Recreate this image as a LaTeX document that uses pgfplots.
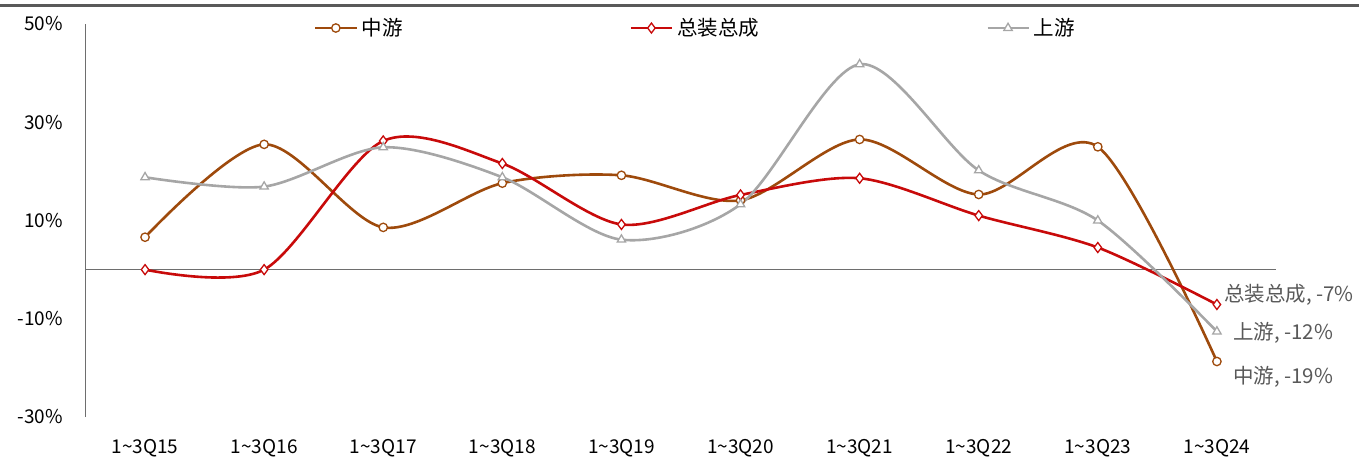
\documentclass[border=0pt]{standalone}
\usepackage{fontspec}
\setmainfont{Noto Sans CJK SC}
\usepackage{pgfplots}
\pgfplotsset{compat=1.18}
\definecolor{cMid}{HTML}{9E4A0C}
\definecolor{cAsm}{HTML}{C80A0A}
\definecolor{cUp}{HTML}{A6A6A6}
\definecolor{cAx}{HTML}{6E6E6E}
\definecolor{cLbl}{HTML}{595959}
\begin{document}
\begin{tikzpicture}
\useasboundingbox (-85.5pt,-43pt) rectangle (1273.5pt,417pt);
\fill[cLbl] (-85.5pt,410pt) rectangle (1273.5pt,413pt);
\begin{axis}[
  at={(0pt,0pt)}, anchor=south west,
  scale only axis, width=1191pt, height=393pt,
  xmin=-0.5, xmax=9.5, ymin=-30, ymax=50,
  clip=false,
  font=\fontsize{20.5}{24}\selectfont,
  axis y line*=left, axis x line*=bottom,
  x axis line style={draw=none},
  y axis line style={draw=cAx, line width=1.3pt, -},
  major tick length=0pt,
  xtick={0,...,9},
  xticklabels={1\textasciitilde3Q15,1\textasciitilde3Q16,1\textasciitilde3Q17,1\textasciitilde3Q18,1\textasciitilde3Q19,1\textasciitilde3Q20,1\textasciitilde3Q21,1\textasciitilde3Q22,1\textasciitilde3Q23,1\textasciitilde3Q24},
  xticklabel style={inner sep=0pt, anchor=north, yshift=-22pt, font=\fontsize{19}{22}\selectfont},
  ytick={-30,-10,10,30,50},
  yticklabels={-30\%,-10\%,10\%,30\%,50\%},
  yticklabel style={inner sep=0pt, anchor=east, xshift=-22.5pt, font=\fontsize{19}{22}\selectfont},
  legend columns=3,
  legend style={draw=none, fill=none, inner sep=0pt, outer sep=0pt,
    at={(0.1919,0.9898)}, anchor=west,
    nodes={inner sep=0pt, anchor=west},
    /tikz/every odd column/.append style={column sep=4pt},
    /tikz/every even column/.append style={column sep=0pt}},
  legend image code/.code={\draw[mark repeat=2,mark phase=2,#1] plot coordinates {(0pt,0pt) (20.5pt,0pt) (41pt,0pt)};},
  every axis plot/.append style={line width=2.6pt, smooth},
]
\draw[cAx, line width=1.3pt] (axis cs:-0.5,0) -- (axis cs:9.5,0);
\addplot[cMid, mark=*, mark size=4.2pt, mark options={fill=white, draw=cMid, line width=1.3pt}]
 coordinates {(0,6.6) (1,25.5) (2,8.6) (3,17.6) (4,19.2) (5,14.1) (6,26.5) (7,15.3) (8,25.0) (9,-18.7)};
\addlegendentry{\makebox[268pt][l]{中游}}
\addplot[cAsm, mark=diamond*, mark size=5pt, mark options={fill=white, draw=cAsm, line width=1.3pt}]
 coordinates {(0,0) (1,0) (2,26.2) (3,21.6) (4,9.2) (5,15.2) (6,18.6) (7,11.0) (8,4.5) (9,-7.1)};
\addlegendentry{\makebox[309pt][l]{总装总成}}
\addplot[cUp, mark=triangle*, mark size=4.8pt, mark options={fill=white, draw=cUp, line width=1.3pt}]
 coordinates {(0,18.8) (1,16.9) (2,24.9) (3,18.8) (4,6.1) (5,13.3) (6,41.8) (7,20.2) (8,10.0) (9,-12.6)};
\addlegendentry{上游}
\node[anchor=west, inner sep=0pt, text=cLbl, xshift=7pt, yshift=10pt] at (axis cs:9,-7.1) {总装总成, -7\%};
\node[anchor=west, inner sep=0pt, text=cLbl, xshift=16pt, yshift=-1pt] at (axis cs:9,-12.6) {上游, -12\%};
\node[anchor=west, inner sep=0pt, text=cLbl, xshift=16pt, yshift=-15pt] at (axis cs:9,-18.7) {中游, -19\%};
\end{axis}
\end{tikzpicture}
\end{document}
